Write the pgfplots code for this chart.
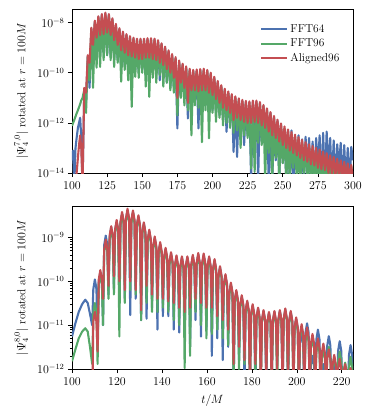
\documentclass[border=0pt]{standalone}
\usepackage{pgfplots}
\usepackage{pgfplotstable}
\pgfplotsset{compat=1.18}

\definecolor{cfft64}{RGB}{76,114,176}
\definecolor{cfft96}{RGB}{85,168,104}
\definecolor{caligned}{RGB}{196,78,82}

% psi4 (7,0), top panel
\pgfplotstableread{
t b g r
100 3.2e-14 7.6e-13 1e-15
100.8 7.9e-14 1e-12 1e-15
101.6 3.2e-15 1.3e-12 1e-15
102.5 1e-13 1.8e-12 1e-15
103.3 2.5e-13 2.4e-12 1e-14
104.2 6.3e-13 3.2e-12 4e-14
105.0 1e-12 4.2e-12 1.3e-13
105.8 1.6e-12 5.6e-12 3.2e-13
106.6 2.5e-13 7.9e-12 1e-13
107.5 3.2e-15 1e-11 3.2e-15
108.75 2.3e-11 2.1e-11 2.5e-11
110 6.3e-12 2.5e-12 1.6e-11
111.25 4.6e-10 4.2e-10 5e-10
112.5 2.5e-11 5e-11 2.5e-10
113.75 5.8e-9 5.2e-9 6.3e-9
115 1.3e-10 2.5e-11 1.3e-9
116.25 1.1e-8 1e-8 1.2e-8
117.5 3.2e-10 1.6e-10 2.5e-9
118.75 1.7e-8 1.5e-8 1.8e-8
120 5e-10 1.7e-10 3.2e-9
121.25 2.1e-8 1.9e-8 2.2e-8
122.5 6.3e-10 3.2e-10 3.5e-9
123.75 2.3e-8 2.0e-8 2.5e-8
125 5e-10 5e-10 4e-9
126.25 2.1e-8 1.9e-8 2.2e-8
127.5 4.5e-10 3.2e-10 3.2e-9
128.75 1.4e-8 1.2e-8 1.5e-8
130 4e-10 1.7e-10 2e-9
131.25 8.1e-9 7.4e-9 8.9e-9
132.5 3.2e-10 2.5e-10 1.3e-9
133.75 5.5e-9 5e-9 6e-9
135 1.6e-10 4.4e-11 7.9e-10
136.25 4e-9 3.6e-9 4.4e-9
137.5 2e-10 1.3e-10 6.3e-10
138.75 3.2e-9 2.9e-9 3.5e-9
140 1.3e-10 5e-11 5e-10
141.25 2.6e-9 2.4e-9 2.9e-9
142.5 1e-10 4.4e-12 4.5e-10
143.75 2.3e-9 2.1e-9 2.5e-9
145 1.3e-10 6.9e-11 4e-10
146.25 2.1e-9 2e-9 2.3e-9
147.5 1e-10 6.3e-11 3.5e-10
148.75 2.1e-9 1.9e-9 2.3e-9
150 1.3e-10 1e-10 3.5e-10
151.25 2.1e-9 2e-9 2.3e-9
152.5 7.9e-11 2.8e-11 4e-10
153.75 2.2e-9 2e-9 2.4e-9
155 1e-10 1.1e-11 4e-10
156.25 2.2e-9 2e-9 2.4e-9
157.5 1e-10 6.3e-11 3.5e-10
158.75 2.1e-9 1.9e-9 2.3e-9
160 7.9e-11 4e-11 3.2e-10
161.25 1.8e-9 1.7e-9 2e-9
162.5 5e-11 7.9e-11 2.5e-10
163.75 1.4e-9 1.3e-9 1.5e-9
165 6.3e-11 2.8e-11 2e-10
166.25 1.05e-9 9.5e-10 1.1e-9
167.5 4e-11 4e-11 1.4e-10
168.75 7.2e-10 6.6e-10 7.9e-10
170 2.5e-11 2e-11 1e-10
171.25 5.1e-10 4.7e-10 5.6e-10
172.5 2.5e-11 1.6e-11 6.3e-11
173.75 3.8e-10 3.5e-10 4.2e-10
175 6e-13 2e-12 1e-11
176.25 2.8e-10 2.6e-10 3.1e-10
177.5 1.3e-11 1e-11 4e-11
178.75 2.1e-10 1.9e-10 2.3e-10
180 1e-11 5e-12 2.5e-11
181.25 1.6e-10 1.5e-10 1.8e-10
182.5 1.5e-12 3.2e-12 6.3e-12
183.75 1.3e-10 1.2e-10 1.45e-10
185 6.3e-12 3.2e-13 2e-11
186.25 1.2e-10 1.1e-10 1.3e-10
187.5 7.9e-12 5e-12 2e-11
188.75 1.2e-10 1.1e-10 1.35e-10
190 6e-13 4e-12 1.8e-11
191.25 1.3e-10 1.2e-10 1.4e-10
192.5 6.3e-12 1.7e-13 2e-11
193.75 1.3e-10 1.2e-10 1.45e-10
195 5e-12 3.2e-12 2e-11
196.25 1.2e-10 1.1e-10 1.3e-10
197.5 4e-12 2.4e-13 1.6e-11
198.75 9.1e-11 8.3e-11 1e-10
200 3.2e-12 2.5e-12 1.3e-11
201.25 6.3e-11 5.8e-11 6.9e-11
202.5 2.5e-12 1.1e-12 8.9e-12
203.75 4.3e-11 3.9e-11 4.7e-11
205 2e-12 1.6e-12 6.3e-12
206.25 2.9e-11 2.6e-11 3.2e-11
207.5 1.3e-12 7.9e-13 4e-12
208.75 2.1e-11 1.9e-11 2.3e-11
210 4.4e-13 1e-12 3.2e-12
211.25 1.6e-11 1.5e-11 1.8e-11
212.5 1e-12 6.3e-13 2.5e-12
213.75 1.3e-11 1.2e-11 1.4e-11
215 6.9e-14 4e-13 1.3e-12
216.25 1.05e-11 9.5e-12 1.15e-11
217.5 4.4e-14 5e-13 1.6e-12
218.75 8.7e-12 7.9e-12 9.5e-12
220 4e-13 1e-13 1.3e-12
221.25 7.6e-12 6.9e-12 8.3e-12
222.5 1.3e-13 3.2e-13 1.1e-12
223.75 6.9e-12 6.3e-12 7.6e-12
225 3.2e-13 2.5e-13 1e-12
226.25 6.6e-12 6e-12 7.2e-12
227.5 5e-15 1.5e-14 1e-12
228.75 7.1e-12 6.5e-12 7.8e-12
230 2.5e-13 1.1e-14 1.1e-12
231.25 7.1e-12 6.5e-12 7.8e-12
232.5 5e-15 1.6e-13 1e-12
233.75 6.2e-12 5.6e-12 6.8e-12
235 2e-13 1.3e-13 7.9e-13
236.25 4.8e-12 4.4e-12 5.2e-12
237.5 1e-13 5e-15 6.3e-13
238.75 3.5e-12 3.2e-12 3.8e-12
240 5e-15 6.3e-14 4.5e-13
241.25 2.5e-12 2.2e-12 2.7e-12
242.5 3.2e-15 5e-15 3.2e-13
243.75 1.7e-12 1.6e-12 1.9e-12
245 3.2e-14 4e-14 2.5e-13
246.25 1.2e-12 1.1e-12 1.35e-12
247.5 5e-15 5e-15 1.8e-13
248.75 8.7e-13 7.9e-13 9.5e-13
250 2.5e-14 2.5e-14 1.3e-13
251.25 5.6e-13 6e-13 7.2e-13
252.5 4e-15 4e-15 1e-13
253.75 5e-13 4.6e-13 5.5e-13
255 5e-15 4e-15 7.9e-14
256.25 5e-13 3.6e-13 4.3e-13
257.5 3.2e-15 1.6e-14 6.3e-14
258.75 2.8e-13 2.8e-13 3.4e-13
260 1.3e-14 4e-15 5e-14
261.25 3.2e-13 2.2e-13 2.7e-13
262.5 3.2e-15 3.2e-15 4e-14
263.75 2.2e-13 1.8e-13 2.1e-13
265 3.2e-15 1e-14 3.2e-14
266.25 2.8e-13 1.4e-13 1.7e-13
267.5 1.3e-14 3.2e-15 2.8e-14
268.75 2.5e-13 1.15e-13 1.4e-13
270 3.2e-15 4e-15 2.2e-14
271.25 1.8e-13 9.8e-14 1.2e-13
272.5 3.2e-15 3.2e-15 2e-14
273.75 2.5e-13 8.3e-14 1e-13
275 1.6e-14 4e-15 1.6e-14
276.25 3.2e-13 7.2e-14 8.7e-14
277.5 3.2e-15 3.2e-15 1.4e-14
278.75 4e-13 6e-14 7.2e-14
280 3.2e-15 3.2e-15 1.3e-14
281.25 4.5e-13 5.1e-14 6.2e-14
282.5 1.3e-14 3.2e-15 1e-14
283.75 2.5e-13 4.3e-14 5.1e-14
285 3.2e-15 3.2e-15 8.9e-15
286.25 2e-13 3.6e-14 4.4e-14
287.5 3.2e-15 3.2e-15 7.9e-15
288.75 1.4e-13 3.1e-14 3.7e-14
290 1.6e-14 3.2e-15 7.1e-15
291.25 1.6e-13 2.6e-14 3.2e-14
292.5 3.2e-15 3.2e-15 6.3e-15
293.75 1.3e-13 2.3e-14 2.8e-14
295 3.2e-15 3.2e-15 5.6e-15
296.25 1e-13 2e-14 2.4e-14
297.5 3.2e-15 3.2e-15 5e-15
298.75 1.1e-13 1.8e-14 2.1e-14
300 3.2e-14 3.2e-15 5e-15
}\topdata

% psi4 (8,0), bottom panel
\pgfplotstableread{
t b g r
100 5.5e-12 1.5e-12 1e-13
101.5 1.1e-11 2.8e-12 1e-13
103 2e-11 5e-12 1e-13
104.5 3e-11 7.1e-12 1e-13
105.9 3.8e-11 8.5e-12 1e-13
107 3.2e-11 7.1e-12 1e-13
108 1.8e-11 3.2e-12 1.6e-13
108.97 1e-11 1.3e-12 1e-13
109.48 6.6e-11 1.9e-11 1.2e-11
110.18 1.1e-10 3.2e-11 2e-11
110.88 6.6e-11 1.9e-11 1.2e-11
111.39 3.3e-12 1.3e-12 2.5e-12
111.9 9.5e-11 8.5e-11 1.1e-10
112.6 1.6e-10 1.4e-10 1.8e-10
113.3 9.5e-11 8.5e-11 1.1e-10
113.81 1e-11 1e-11 4e-11
114.32 6.7e-10 4.8e-10 5.3e-10
115.02 1.1e-9 7.9e-10 8.9e-10
115.72 6.7e-10 4.8e-10 5.3e-10
116.23 5e-11 4e-11 7.9e-11
116.74 1e-9 9.3e-10 1.1e-9
117.44 1.7e-9 1.5e-9 1.8e-9
118.14 1e-9 9.3e-10 1.1e-9
118.65 6.3e-11 5e-11 1.3e-10
119.16 1.4e-9 1.3e-9 1.5e-9
119.86 2.3e-9 2.2e-9 2.5e-9
120.56 1.4e-9 1.3e-9 1.5e-9
121.07 5e-11 5.5e-12 1e-10
121.58 2.1e-9 2e-9 2.3e-9
122.28 3.5e-9 3.3e-9 3.8e-9
122.98 2.1e-9 2e-9 2.3e-9
123.49 4e-11 3.2e-11 6.3e-11
124.0 2.5e-9 2.3e-9 2.7e-9
124.7 4.2e-9 3.9e-9 4.5e-9
125.4 2.5e-9 2.3e-9 2.7e-9
125.91 1.7e-11 6.3e-11 1e-10
126.42 2.3e-9 2.1e-9 2.5e-9
127.12 3.8e-9 3.6e-9 4.1e-9
127.82 2.3e-9 2.1e-9 2.5e-9
128.33 4e-11 5e-11 6.3e-11
128.84 1.8e-9 1.7e-9 1.9e-9
129.54 3e-9 2.8e-9 3.2e-9
130.24 1.8e-9 1.7e-9 1.9e-9
130.75 1.3e-11 1.3e-11 2.2e-11
131.26 1.25e-9 1.2e-9 1.3e-9
131.96 2.1e-9 1.9e-9 2.2e-9
132.66 1.25e-9 1.2e-9 1.3e-9
133.17 1.4e-11 3.2e-11 7.9e-11
133.68 8.3e-10 7.8e-10 8.9e-10
134.38 1.4e-9 1.3e-9 1.5e-9
135.08 8.3e-10 7.8e-10 8.9e-10
135.59 2.5e-11 2e-11 5e-11
136.1 5.9e-10 5.5e-10 6.3e-10
136.8 9.8e-10 9.1e-10 1.05e-9
137.5 5.9e-10 5.5e-10 6.3e-10
138.01 7.9e-12 2e-11 4e-11
138.52 4.3e-10 4.1e-10 4.7e-10
139.22 7.2e-10 6.8e-10 7.8e-10
139.92 4.3e-10 4.1e-10 4.7e-10
140.43 1.6e-11 2.5e-11 4e-11
140.94 3.2e-10 3e-10 3.5e-10
141.64 5.4e-10 5e-10 5.8e-10
142.34 3.2e-10 3e-10 3.5e-10
142.85 1.6e-11 2e-11 3.5e-11
143.36 2.6e-10 2.4e-10 2.7e-10
144.06 4.3e-10 4e-10 4.6e-10
144.76 2.6e-10 2.4e-10 2.7e-10
145.27 7.9e-12 1.3e-11 3.2e-11
145.78 2.2e-10 2e-10 2.3e-10
146.48 3.6e-10 3.4e-10 3.9e-10
147.18 2.2e-10 2e-10 2.3e-10
147.69 6.8e-12 1e-11 2.5e-11
148.2 2.1e-10 1.9e-10 2.2e-10
148.9 3.5e-10 3.2e-10 3.7e-10
149.6 2.1e-10 1.9e-10 2.2e-10
150.11 7.9e-12 1.05e-12 2e-11
150.62 2.1e-10 1.9e-10 2.2e-10
151.32 3.5e-10 3.2e-10 3.7e-10
152.02 2.1e-10 1.9e-10 2.2e-10
152.53 3.2e-12 2e-12 2.5e-11
153.04 2.2e-10 2.1e-10 2.4e-10
153.74 3.7e-10 3.5e-10 4e-10
154.44 2.2e-10 2.1e-10 2.4e-10
154.95 1.3e-11 2e-11 4e-11
155.46 2.5e-10 2.3e-10 2.6e-10
156.16 4.1e-10 3.8e-10 4.4e-10
156.86 2.5e-10 2.3e-10 2.6e-10
157.37 5.5e-12 1e-11 3.2e-11
157.88 2.4e-10 2.2e-10 2.6e-10
158.58 4e-10 3.7e-10 4.3e-10
159.28 2.4e-10 2.2e-10 2.6e-10
159.79 7.9e-12 5e-12 2.5e-11
160.3 2.1e-10 1.9e-10 2.2e-10
161.0 3.5e-10 3.2e-10 3.7e-10
161.7 2.1e-10 1.9e-10 2.2e-10
162.21 2e-12 6.3e-12 2.5e-11
162.72 1.8e-10 1.7e-10 1.9e-10
163.42 3e-10 2.8e-10 3.2e-10
164.12 1.8e-10 1.7e-10 1.9e-10
164.63 5e-12 7.9e-12 1.6e-11
165.14 1.25e-10 1.2e-10 1.3e-10
165.84 2.1e-10 1.9e-10 2.2e-10
166.54 1.25e-10 1.2e-10 1.3e-10
167.05 1.6e-12 5e-12 1.3e-11
167.56 8.1e-11 7.6e-11 8.7e-11
168.26 1.35e-10 1.25e-10 1.45e-10
168.96 8.1e-11 7.6e-11 8.7e-11
169.47 3.2e-12 3.5e-12 7.9e-12
169.98 5.2e-11 4.9e-11 5.6e-11
170.68 8.7e-11 8.1e-11 9.3e-11
171.38 5.2e-11 4.9e-11 5.6e-11
171.89 3.2e-13 3.2e-13 1.3e-12
172.4 3.5e-11 3.3e-11 3.8e-11
173.1 5.9e-11 5.5e-11 6.3e-11
173.8 3.5e-11 3.3e-11 3.8e-11
174.31 1.6e-12 1e-12 3.2e-12
174.82 2.7e-11 2.5e-11 2.9e-11
175.52 4.5e-11 4.2e-11 4.8e-11
176.22 2.7e-11 2.5e-11 2.9e-11
176.73 3.2e-13 1.3e-12 1.6e-12
177.24 2e-11 1.9e-11 2.2e-11
177.94 3.4e-11 3.2e-11 3.6e-11
178.64 2e-11 1.9e-11 2.2e-11
179.15 3.2e-13 3.2e-13 3.2e-13
179.66 1.7e-11 1.6e-11 1.8e-11
180.36 2.8e-11 2.6e-11 3e-11
181.06 1.7e-11 1.6e-11 1.8e-11
181.57 3.2e-13 5e-13 1.3e-12
182.08 1.4e-11 1.3e-11 1.5e-11
182.78 2.4e-11 2.2e-11 2.5e-11
183.48 1.4e-11 1.3e-11 1.5e-11
183.99 7.9e-13 3.2e-13 3.2e-13
184.5 1.25e-11 1.2e-11 1.3e-11
185.2 2.1e-11 2e-11 2.2e-11
185.9 1.25e-11 1.2e-11 1.3e-11
186.41 3.2e-13 1e-12 6.3e-13
186.92 1.15e-11 1.1e-11 1.2e-11
187.62 1.9e-11 1.8e-11 2e-11
188.32 1.15e-11 1.1e-11 1.2e-11
188.83 3.2e-13 3.2e-13 3.2e-13
189.34 1.2e-11 1.1e-11 1.25e-11
190.04 2e-11 1.9e-11 2.1e-11
190.74 1.2e-11 1.1e-11 1.25e-11
191.25 1.3e-12 3.2e-13 1e-12
191.76 1.25e-11 1.2e-11 1.3e-11
192.46 2.1e-11 2e-11 2.2e-11
193.16 1.25e-11 1.2e-11 1.3e-11
193.67 3.2e-13 6.3e-13 3.2e-13
194.18 1.35e-11 1.3e-11 1.4e-11
194.88 2.25e-11 2.1e-11 2.4e-11
195.58 1.35e-11 1.3e-11 1.4e-11
196.09 3.2e-13 3.2e-13 6.3e-13
196.6 1.2e-11 1.1e-11 1.25e-11
197.3 2e-11 1.9e-11 2.1e-11
198.0 1.2e-11 1.1e-11 1.25e-11
198.51 6.3e-13 3.2e-13 3.2e-13
199.02 8.5e-12 7.6e-12 9e-12
199.72 1.4e-11 1.25e-11 1.5e-11
200.42 8.5e-12 7.6e-12 9e-12
200.93 3.2e-13 3.2e-13 3.2e-13
201.44 3.8e-12 5.3e-12 6.3e-12
202.14 6.3e-12 8.9e-12 1.05e-11
202.84 3.8e-12 5.3e-12 6.3e-12
203.35 3.2e-13 3.2e-13 3.2e-13
203.86 6.7e-12 4.2e-12 5.3e-12
204.56 1.1e-11 7.1e-12 8.9e-12
205.26 6.7e-12 4.2e-12 5.3e-12
205.77 3.2e-13 3.2e-13 3.2e-13
206.28 1.2e-12 3e-12 3.8e-12
206.98 2e-12 5e-12 6.3e-12
207.68 1.2e-12 3e-12 3.8e-12
208.19 3.2e-13 3.2e-13 3.2e-13
208.7 4.7e-12 2.4e-12 3e-12
209.4 7.9e-12 4e-12 5e-12
210.1 4.7e-12 2.4e-12 3e-12
210.61 3.2e-13 3.2e-13 3.2e-13
211.12 7.6e-13 1.7e-12 2.3e-12
211.82 1.3e-12 2.8e-12 3.8e-12
212.52 7.6e-13 1.7e-12 2.3e-12
213.03 3.2e-13 3.2e-13 3.2e-13
213.54 3.4e-12 1.9e-12 1.7e-12
214.24 5.6e-12 3.2e-12 2.8e-12
214.94 3.4e-12 1.9e-12 1.7e-12
215.45 3.2e-13 3.2e-13 3.2e-13
215.96 7.6e-13 1.1e-12 1.25e-12
216.66 1.3e-12 1.8e-12 2.1e-12
217.36 7.6e-13 1.1e-12 1.25e-12
217.87 3.2e-13 3.2e-13 3.2e-13
218.38 2.6e-12 1.5e-12 1e-12
219.08 4.3e-12 2.5e-12 1.7e-12
219.78 2.6e-12 1.5e-12 1e-12
220.29 3.2e-13 3.2e-13 3.2e-13
220.8 6.7e-13 8.5e-13 7.9e-13
221.5 1.1e-12 1.4e-12 1.3e-12
222.2 6.7e-13 8.5e-13 7.9e-13
222.71 3.2e-13 3.2e-13 3.2e-13
223.22 2.1e-12 1.1e-12 6.3e-13
223.92 3.5e-12 1.9e-12 1.05e-12
224.62 2.1e-12 1.1e-12 6.3e-13
225 1e-12 4e-13 3.2e-13
}\botdata

\pgfplotsset{
  every axis/.append style={
    scale only axis, width=281bp,
    font=\fontsize{11.5}{13.5}\selectfont,
    tick align=outside, xtick pos=left, ytick pos=left,
    major tick length=4bp, minor tick length=2.2bp,
    tick style={black, line width=0.6pt},
    axis line style={black, line width=0.8pt},
    ymode=log, clip=true,
    ylabel shift=2pt, xlabel shift=2pt,
    xticklabel shift=1.5pt,
  },
  every axis plot post/.append style={line width=2.1pt, line join=round},
}

\begin{document}
\begin{tikzpicture}
\begin{axis}[
  at={(0,0)}, anchor=north west, height=164bp,
  xmin=100, xmax=300, ymin=1e-14, ymax=3.5e-8,
  xtick={100,125,...,300},
  ytick={1e-14,1e-12,1e-10,1e-8}, minor ytick={},
  ylabel={$|\Psi_4^{7,0}|$ rotated at $r=100M$},
  legend style={draw=none, fill=none, at={(0.97,0.93)}, anchor=north east,
    row sep=1pt},
  legend cell align=left,
  legend image code/.code={\draw[#1, line width=2.1pt] (0bp,0bp) -- (26bp,0bp);},
]
\addplot[draw=cfft64] table[x=t, y=b] {\topdata};
\addlegendentry{FFT64}
\addplot[draw=cfft96] table[x=t, y=g] {\topdata};
\addlegendentry{FFT96}
\addplot[draw=caligned] table[x=t, y=r] {\topdata};
\addlegendentry{Aligned96}
\end{axis}

\begin{axis}[
  at={(0,-197bp)}, anchor=north west, height=163bp,
  xmin=100, xmax=225, ymin=1e-12, ymax=5.2e-9,
  xtick={100,120,...,220},
  ytick={1e-12,1e-11,1e-10,1e-9},
  xlabel={$t/M$},
  ylabel={$|\Psi_4^{8,0}|$ rotated at $r=100M$},
]
\addplot[draw=cfft64] table[x=t, y=b] {\botdata};
\addplot[draw=cfft96] table[x=t, y=g] {\botdata};
\addplot[draw=caligned] table[x=t, y=r] {\botdata};
\end{axis}
\path (-72bp,9bp) rectangle (301bp,-409bp);
\end{tikzpicture}
\end{document}
